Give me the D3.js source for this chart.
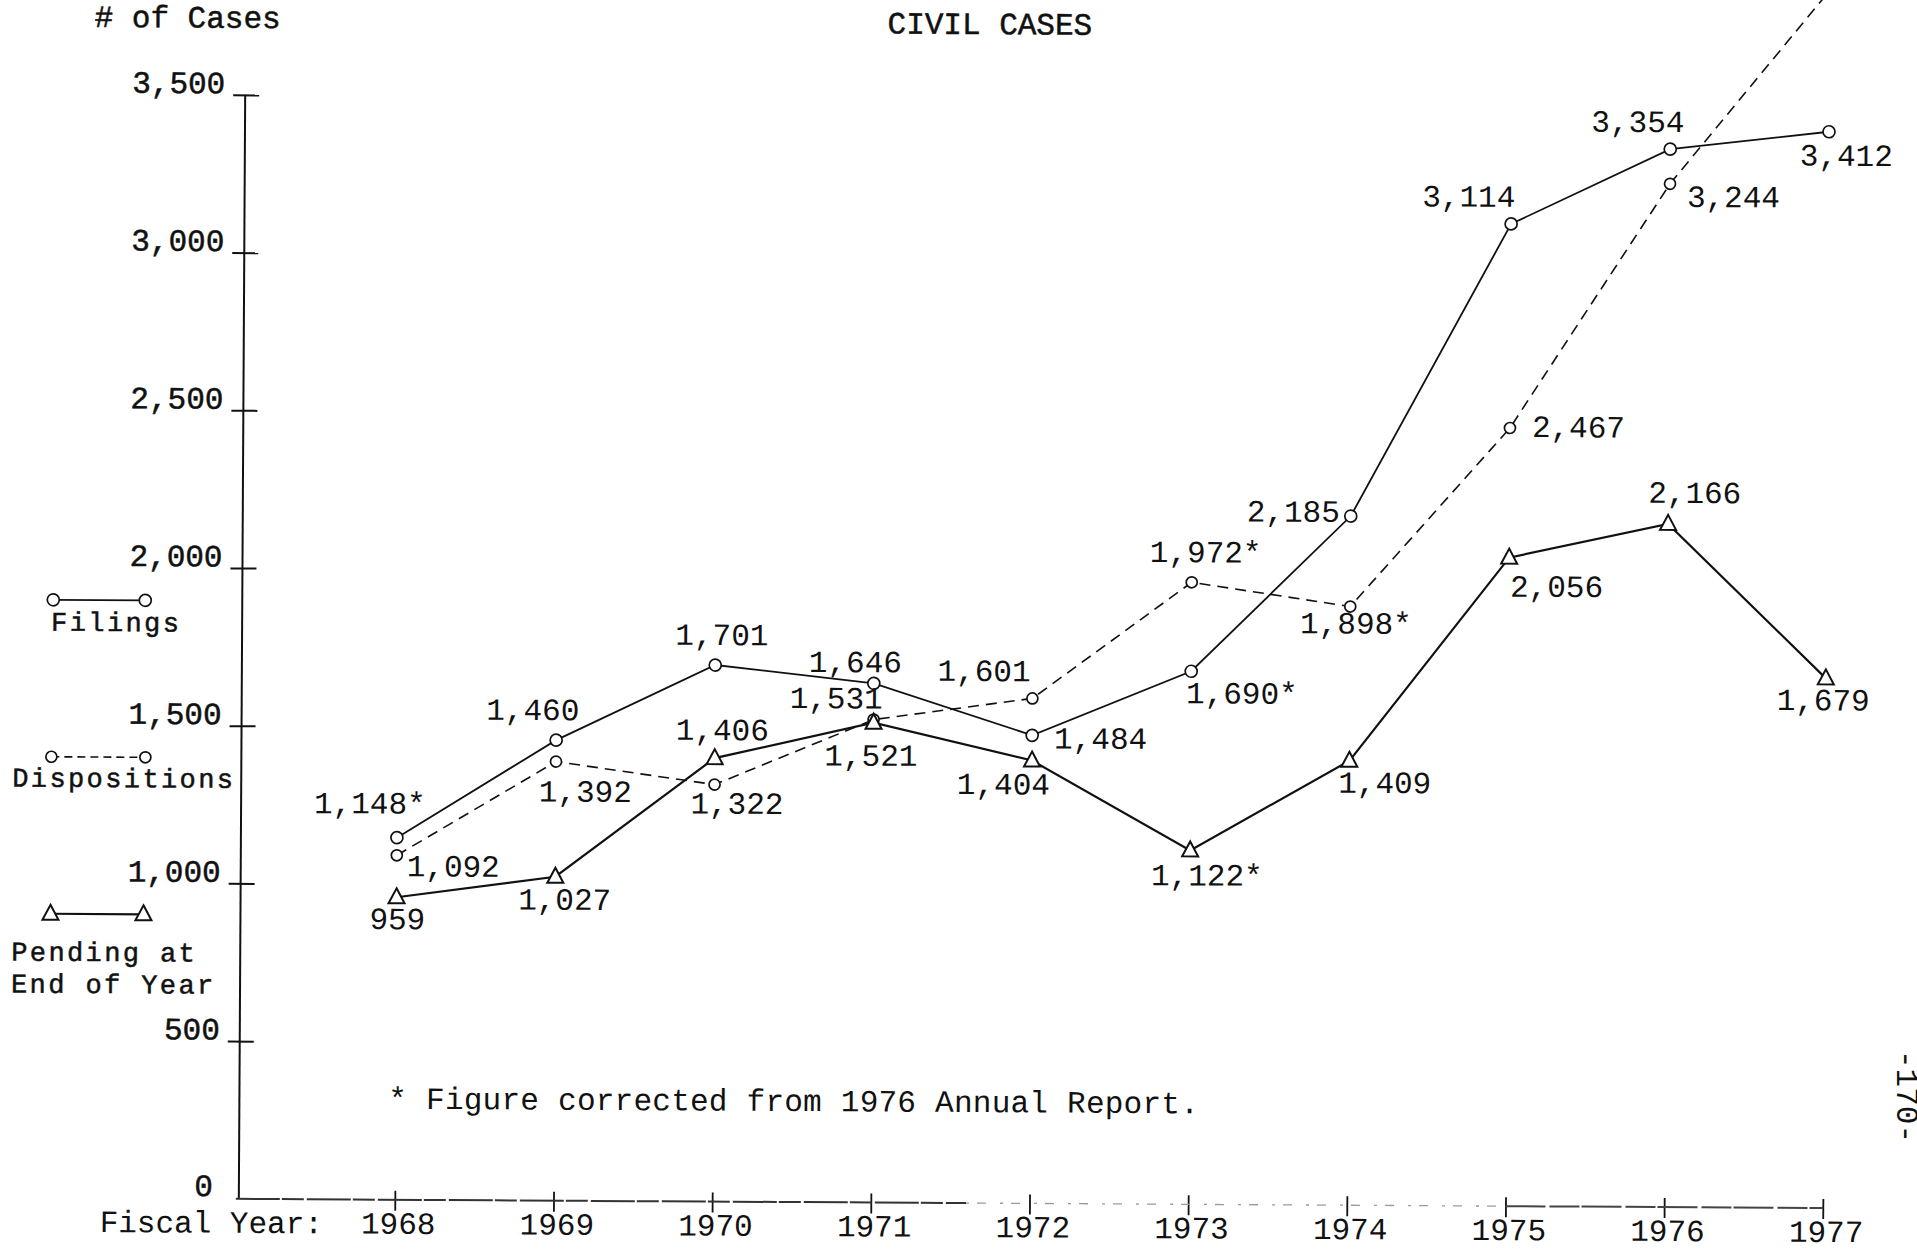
<!DOCTYPE html>
<html><head><meta charset="utf-8">
<script src="https://cdn.jsdelivr.net/npm/d3@7"></script>
<style>
html,body{margin:0;padding:0;background:#fff;overflow:hidden}
svg{display:block}
text{font-family:"Liberation Mono","Courier New",monospace;font-size:31px;fill:#111}
.heavy{stroke:#111;stroke-width:0.5px}
.legend{font-size:27px;letter-spacing:2.4px;stroke:#111;stroke-width:0.5px}
</style></head><body>
<svg id="chart" width="1917" height="1251"></svg>
<script>
// ---------------- data ----------------
const years = [1968, 1969, 1970, 1971, 1972, 1973, 1974, 1975, 1976, 1977];
const filings = [1148, 1460, 1701, 1646, 1484, 1690, 2185, 3114, 3354, 3412];
const filingsCorrected = [true, false, false, false, false, true, false, false, false, false];
const dispositions = [1092, 1392, 1322, 1531, 1601, 1972, 1898, 2467, 3244, 3860];
const dispositionsCorrected = [false, false, false, false, false, true, true, false, false, false];
const dispositionsLabelled = [true, true, true, true, true, true, true, true, true, false];
const pending = [959, 1027, 1406, 1521, 1404, 1122, 1409, 2056, 2166, 1679];
const pendingCorrected = [false, false, false, false, false, true, false, false, false, false];
const yTicks = [0, 500, 1000, 1500, 2000, 2500, 3000, 3500];
const legendNames = ["Filings", "Dispositions", ["Pending at", "End of Year"]];
const titleText = "CIVIL CASES";
const yTitle = "# of Cases";
const xTitle = "Fiscal Year:";
const footnote = "* Figure corrected from 1976 Annual Report.";
const pageNumber = "-170-";

// ---------------- layout (label offsets from their points) ----------------
const filingsLabelOffsets = [[-83,-24],[-70,-20],[-40,-20],[-65,-11],[22,13],[-5,32],[-104,6],[-89,-17],[-79,-17],[-29,34]];
const dispLabelOffsets = [[10,21],[-17,40],[-24,29],[-84,-11],[-95,-17],[-42,-20],[-50,27],[22,9],[17,23],[0,0]];
const pendLabelOffsets = [[-27,32],[-37,33],[-39,-18],[-49,43],[-75,34],[-39,35],[-11,32],[1,39],[-20,-21],[-49,32]];

const svg = d3.select("#chart");
const g = svg.append("g").attr("transform", "rotate(0.33,960,650)");

const x = d3.scaleLinear().domain([1968, 1977]).range([398, 1826]);
const y = d3.scaleLinear().domain([0, 3500]).range([1203, 99]);
const axisX = 242;
const fmt = d3.format(",");

// ---------------- y axis ----------------
g.append("line").attr("x1", axisX).attr("x2", axisX).attr("y1", y(0)).attr("y2", y(3500))
  .attr("stroke", "#111").attr("stroke-width", 2);
const ya = g.append("g").attr("transform", `translate(${axisX},0)`)
  .call(d3.axisLeft(y).tickValues(yTicks).tickFormat(d3.format(",")).tickSize(0).tickPadding(0));
ya.attr("font-family", null).attr("font-size", null);
ya.select(".domain").remove();
ya.selectAll(".tick line").attr("x1", d => d === 0 ? 0 : -12).attr("x2", d => d === 0 ? 0 : 14)
  .attr("stroke", "#111").attr("stroke-width", 2);
ya.selectAll(".tick text").attr("class", "heavy").attr("x", d => d === 0 ? -26 : -20).attr("dy", d => d === 0 ? "-0.1em" : "-0.06em")
  .attr("fill", "#111").style("text-anchor", "end");

// ---------------- x axis ----------------
const xa = g.append("g").attr("transform", `translate(0,${y(0)})`)
  .call(d3.axisBottom(x).tickValues(years).tickFormat(d3.format("d")).tickSize(0).tickPadding(0));
xa.attr("font-family", null).attr("font-size", null);
xa.select(".domain").remove();
xa.selectAll(".tick line").attr("y1", -9).attr("y2", 11).attr("stroke", "#111").attr("stroke-width", 1.8);
xa.selectAll(".tick text").attr("y", 34).attr("dy", 0).attr("dx", 3).attr("fill", "#111");
// scanned-looking baseline
g.append("line").attr("x1", axisX - 3).attr("x2", x(1971.6)).attr("y1", y(0)).attr("y2", y(0))
  .attr("stroke", "#333").attr("stroke-width", 2).attr("stroke-dasharray", "44,2,22,3");
g.append("line").attr("x1", x(1971.6)).attr("x2", x(1975)).attr("y1", y(0)).attr("y2", y(0))
  .attr("stroke", "#9a9a9a").attr("stroke-width", 1.3).attr("stroke-dasharray", "3,8,9,14");
g.append("line").attr("x1", x(1975)).attr("x2", x(1977)).attr("y1", y(0)).attr("y2", y(0))
  .attr("stroke", "#444").attr("stroke-width", 2).attr("stroke-dasharray", "40,4,30,2");

// ---------------- titles / notes ----------------
g.append("text").attr("class", "heavy").attr("x", 91).attr("y", 32).text(yTitle);
g.append("text").attr("class", "heavy").attr("x", 884).attr("y", 34).text(titleText);
g.append("text").attr("x", 103).attr("y", 1237).text(xTitle);
g.append("text").attr("x", 391).attr("y", 1112).style("letter-spacing", "0.25px").text(footnote);

// ---------------- series ----------------
const line = d3.line().x((d, i) => x(years[i])).y(d => y(d));
const triPath = "M0,-9L8,6L-8,6Z";

function drawSeries(values, corrected, offsets, style, labelled) {
  const s = g.append("g");
  s.append("path").datum(values).attr("d", line).attr("fill", "none")
    .attr("stroke", "#111").attr("stroke-width", style.width)
    .attr("stroke-dasharray", style.dash || null);
  if (style.marker === "circle") {
    s.selectAll("circle").data(values).join("circle")
      .attr("cx", (d, i) => x(years[i])).attr("cy", d => y(d)).attr("r", style.r)
      .attr("fill", "#fff").attr("stroke", "#111").attr("stroke-width", 1.7);
  } else {
    s.selectAll("path.m").data(values).join("path").attr("class", "m")
      .attr("transform", (d, i) => `translate(${x(years[i])},${y(d)})`).attr("d", triPath)
      .attr("fill", "#fff").attr("stroke", "#111").attr("stroke-width", 2);
  }
  s.selectAll("text").data(values.map((v, i) => i).filter(i => !labelled || labelled[i])).join("text")
    .attr("x", i => x(years[i]) + offsets[i][0]).attr("y", i => y(values[i]) + offsets[i][1])
    .text(i => fmt(values[i]) + (corrected[i] ? "*" : ""));
}
drawSeries(filings, filingsCorrected, filingsLabelOffsets, {width: 1.8, marker: "circle", r: 6});
drawSeries(dispositions, dispositionsCorrected, dispLabelOffsets, {width: 1.6, dash: "11,7", marker: "circle", r: 5.5}, dispositionsLabelled);
drawSeries(pending, pendingCorrected, pendLabelOffsets, {width: 2.2, marker: "triangle"});

// ---------------- legend ----------------
const lg = g.append("g");
lg.append("line").attr("x1", 53).attr("x2", 145).attr("y1", 605).attr("y2", 605).attr("stroke", "#111").attr("stroke-width", 1.8);
lg.selectAll("circle.f").data([53, 145]).join("circle").attr("class", "f")
  .attr("cx", d => d).attr("cy", 605).attr("r", 6).attr("fill", "#fff").attr("stroke", "#111").attr("stroke-width", 1.7);
lg.append("text").attr("class", "legend").attr("x", 51).attr("y", 636).text(legendNames[0]);

lg.append("line").attr("x1", 52).attr("x2", 146).attr("y1", 762).attr("y2", 762).attr("stroke", "#111")
  .attr("stroke-width", 1.6).attr("stroke-dasharray", "8,5");
lg.selectAll("circle.d").data([52, 146]).join("circle").attr("class", "d")
  .attr("cx", d => d).attr("cy", 762).attr("r", 5.5).attr("fill", "#fff").attr("stroke", "#111").attr("stroke-width", 1.7);
lg.append("text").attr("class", "legend").attr("x", 13).attr("y", 792).text(legendNames[1]);

lg.append("line").attr("x1", 52).attr("x2", 145).attr("y1", 919).attr("y2", 919).attr("stroke", "#111").attr("stroke-width", 2.2);
lg.selectAll("path.p").data([52, 145]).join("path").attr("class", "p")
  .attr("transform", d => `translate(${d},919)`).attr("d", triPath)
  .attr("fill", "#fff").attr("stroke", "#111").attr("stroke-width", 2);
lg.append("text").attr("class", "legend").attr("x", 13).attr("y", 966).text(legendNames[2][0]);
lg.append("text").attr("class", "legend").attr("x", 13).attr("y", 998).text(legendNames[2][1]);

// ---------------- page number (rotated, at the edge as in the scan) ----------------
svg.append("text").attr("transform", "translate(1897,1050) rotate(90)").text(pageNumber);
</script>
</body></html>
